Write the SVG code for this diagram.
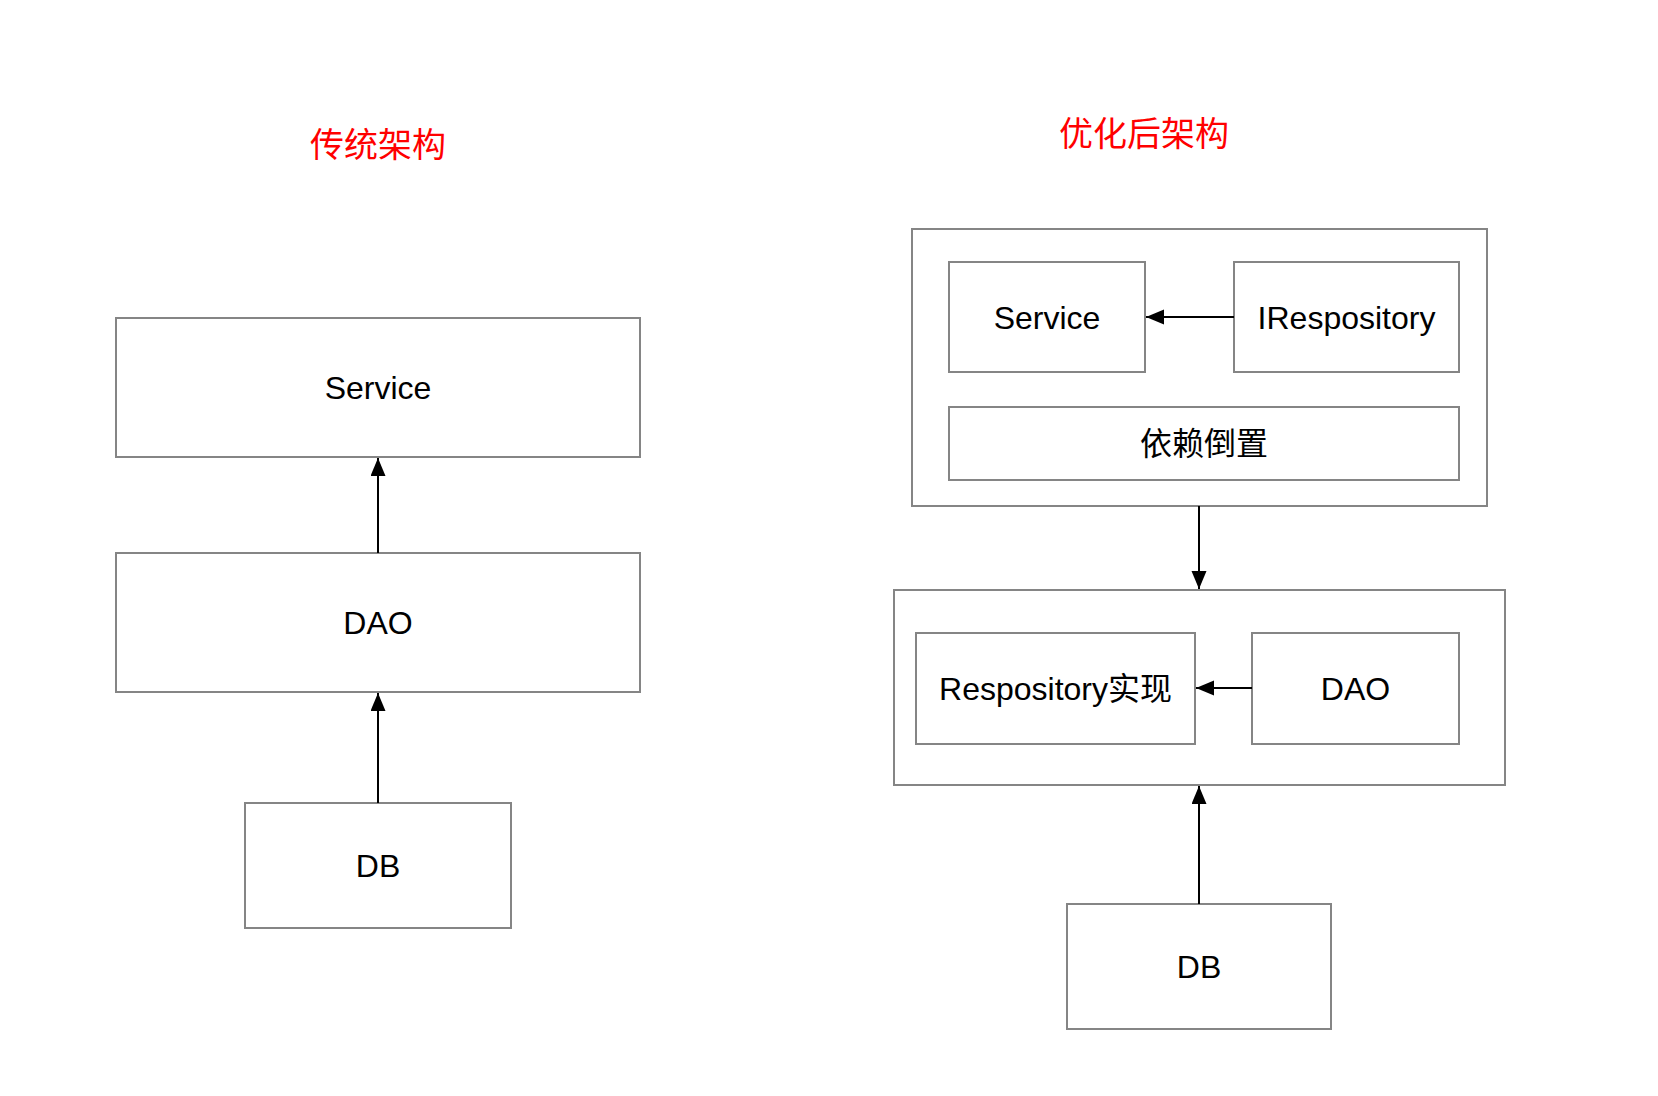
<svg xmlns="http://www.w3.org/2000/svg" width="1658" height="1096" viewBox="0 0 1658 1096">
<style>
.box{fill:#fff;stroke:#858585;stroke-width:2}
.lbl{font-family:"Liberation Sans","Noto Sans CJK SC",sans-serif;font-size:32px;fill:#000;text-anchor:middle}
.title{font-family:"Liberation Sans","Noto Sans CJK SC",sans-serif;font-size:34px;fill:#ff0000;text-anchor:middle}
.edge{stroke:#000;stroke-width:2;fill:none;marker-end:url(#arr)}
</style>
<defs>
<marker id="arr" markerUnits="userSpaceOnUse" markerWidth="19" markerHeight="16" refX="18" refY="7.5" orient="auto">
<path d="M0,0 L18,7.5 L0,15 z" fill="#000"/>
</marker>
</defs>
<rect width="1658" height="1096" fill="#fff"/>
<g id="title-left"><text class="title" x="378" y="157">传统架构</text></g>
<g id="title-right"><text class="title" x="1144" y="146">优化后架构</text></g>

<g id="l-service"><rect class="box" x="116" y="318" width="524" height="139"/><text class="lbl" x="378" y="399">Service</text></g>
<g id="l-dao"><rect class="box" x="116" y="553" width="524" height="139"/><text class="lbl" x="378" y="634">DAO</text></g>
<g id="l-db"><rect class="box" x="245" y="803" width="266" height="125"/><text class="lbl" x="378" y="877">DB</text></g>

<g id="r-top"><rect class="box" x="912" y="229" width="575" height="277"/></g>
<g id="r-service"><rect class="box" x="949" y="262" width="196" height="110"/><text class="lbl" x="1047" y="329">Service</text></g>
<g id="r-irepo"><rect class="box" x="1234" y="262" width="225" height="110"/><text class="lbl" x="1346.5" y="329">IRespository</text></g>
<g id="r-dip"><rect class="box" x="949" y="407" width="510" height="73"/><text class="lbl" x="1204" y="455">依赖倒置</text></g>

<g id="r-mid"><rect class="box" x="894" y="590" width="611" height="195"/></g>
<g id="r-repoimpl"><rect class="box" x="916" y="633" width="279" height="111"/><text class="lbl" x="1055.5" y="700">Respository实现</text></g>
<g id="r-dao"><rect class="box" x="1252" y="633" width="207" height="111"/><text class="lbl" x="1355.5" y="700">DAO</text></g>
<g id="r-db"><rect class="box" x="1067" y="904" width="264" height="125"/><text class="lbl" x="1199" y="978">DB</text></g>

<g id="connectors">
<line class="edge" x1="378" y1="553" x2="378" y2="458"/>
<line class="edge" x1="378" y1="803" x2="378" y2="693"/>
<line class="edge" x1="1234" y1="317" x2="1146" y2="317"/>
<line class="edge" x1="1199" y1="506" x2="1199" y2="589"/>
<line class="edge" x1="1252" y1="688" x2="1196" y2="688"/>
<line class="edge" x1="1199" y1="904" x2="1199" y2="786"/>
</g>
</svg>
